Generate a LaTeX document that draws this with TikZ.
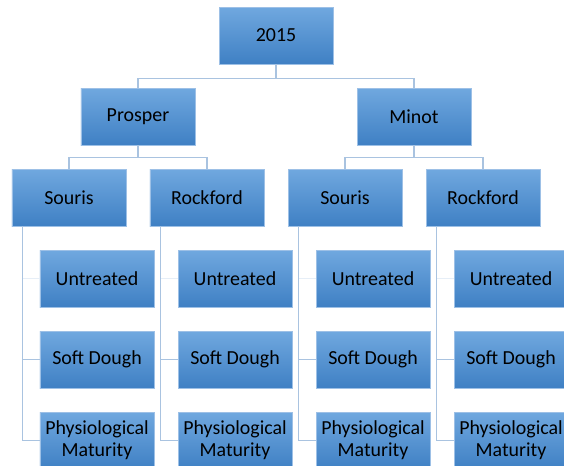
\documentclass[tikz,border=0pt]{standalone}
\usepackage{fontspec}
\setmainfont{Carlito}
\usepackage{tikz}
\usetikzlibrary{positioning}
\definecolor{boxtop}{HTML}{70A8DF}
\definecolor{boxbot}{HTML}{3F80C4}
\definecolor{boxline}{HTML}{9DC0E6}
\definecolor{linkcol}{HTML}{A9C3E0}
\definecolor{faintcol}{HTML}{E6EEF7}

\tikzset{
  box/.style={rectangle, top color=boxtop, bottom color=boxbot, draw=boxline,
    line width=0.4pt, minimum width=3.42cm, minimum height=1.71cm,
    inner sep=0pt, align=center, font=\fontsize{17}{19}\selectfont},
  link/.style={draw=linkcol, line width=1pt},
  faintlink/.style={draw=faintcol, line width=0.8pt}
}

\begin{document}
\begin{tikzpicture}[x=0.03cm, y=-0.03cm]
  \useasboundingbox[fill=white] (0,0) rectangle (564,465);
  % top levels
  \node[box] (year) at (276,35.5) {2015};
  \node[box] (prosper) at (138,116.5) {Prosper};
  \node[box] (minot) at (414,116.5) {Minot};
  \node[box] (souA) at (69,197.5) {Souris};
  \node[box] (rockA) at (207,197.5) {Rockford};
  \node[box] (souB) at (345,197.5) {Souris};
  \node[box] (rockB) at (483,197.5) {Rockford};
  % Prosper, Souris
  \node[box] (untA) at (97,278.5) {Untreated};
  \node[box] (sdA) at (97,359.5) {Soft Dough};
  \node[box] (pmA) at (97,440.5) {Physiological\\Maturity};
  % Prosper, Rockford
  \node[box] (untB) at (235,278.5) {Untreated};
  \node[box] (sdB) at (235,359.5) {Soft Dough};
  \node[box] (pmB) at (235,440.5) {Physiological\\Maturity};
  % Minot, Souris
  \node[box] (untC) at (373,278.5) {Untreated};
  \node[box] (sdC) at (373,359.5) {Soft Dough};
  \node[box] (pmC) at (373,440.5) {Physiological\\Maturity};
  % Minot, Rockford
  \node[box] (untD) at (511,278.5) {Untreated};
  \node[box] (sdD) at (511,359.5) {Soft Dough};
  \node[box] (pmD) at (511,440.5) {Physiological\\Maturity};

  % tree links
  \draw[link] (year.south) -- ++(0,14) -| (prosper.north);
  \draw[link] (year.south) -- ++(0,14) -| (minot.north);
  \draw[link] (prosper.south) -- ++(0,12) -| (souA.north);
  \draw[link] (prosper.south) -- ++(0,12) -| (rockA.north);
  \draw[link] (minot.south) -- ++(0,12) -| (souB.north);
  \draw[link] (minot.south) -- ++(0,12) -| (rockB.north);

  % leaf links
  \draw[faintlink] (souA.south west) ++(11,0) |- (untA.west);
  \draw[faintlink] (rockA.south west) ++(11,0) |- (untB.west);
  \draw[faintlink] (souB.south west) ++(11,0) |- (untC.west);
  \draw[faintlink] (rockB.south west) ++(11,0) |- (untD.west);
  \draw[link] (souA.south west) ++(11,0) |- (sdA.west);
  \draw[link] (souA.south west) ++(11,0) |- (pmA.west);
  \draw[link] (rockA.south west) ++(11,0) |- (sdB.west);
  \draw[link] (rockA.south west) ++(11,0) |- (pmB.west);
  \draw[link] (souB.south west) ++(11,0) |- (sdC.west);
  \draw[link] (souB.south west) ++(11,0) |- (pmC.west);
  \draw[link] (rockB.south west) ++(11,0) |- (sdD.west);
  \draw[link] (rockB.south west) ++(11,0) |- (pmD.west);
\end{tikzpicture}
\end{document}
